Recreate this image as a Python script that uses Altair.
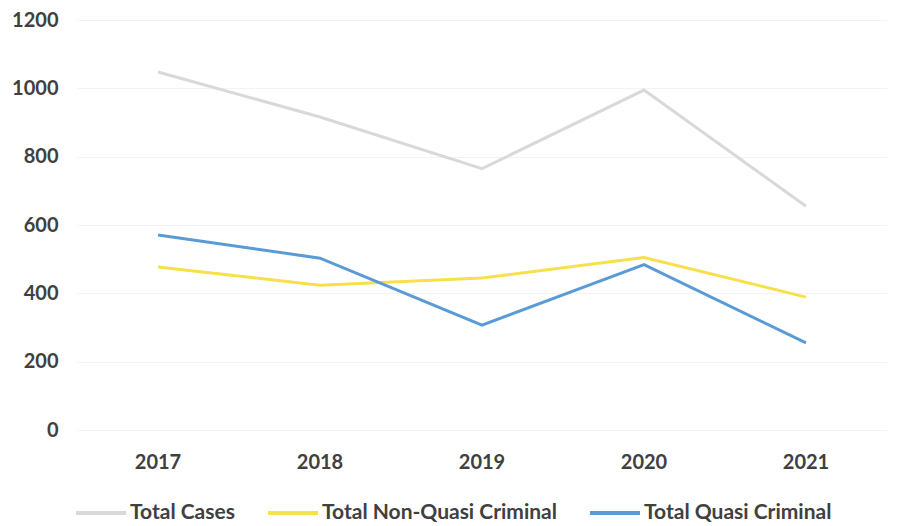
import altair as alt
import pandas as pd

years = ["2017", "2018", "2019", "2020", "2021"]
total_cases = [1048, 916, 765, 995, 655]
non_quasi = [477, 424, 445, 505, 389]
quasi = [571, 503, 307, 484, 255]
series = ["Total Cases", "Total Non-Quasi Criminal", "Total Quasi Criminal"]
colors = ["#d9d9d9", "#f7e04a", "#5b9bd5"]

rows = []
for name, vals in zip(series, [total_cases, non_quasi, quasi]):
    for y, v in zip(years, vals):
        rows.append({"Year": y, "Value": v, "Series": name, "order": series.index(name)})
df = pd.DataFrame(rows)

chart = alt.Chart(df).mark_line(strokeWidth=3).encode(
    x=alt.X("Year:N", sort=years, scale=alt.Scale(type="band", paddingInner=0, paddingOuter=0),
            axis=alt.Axis(title=None, labelAngle=0, domain=False, ticks=False, grid=False,
                          labelFont="Lato", labelFontSize=20, labelFontWeight="bold",
                          labelColor="#404040", labelPadding=22, bandPosition=0.5)),
    y=alt.Y("Value:Q", scale=alt.Scale(domain=[0, 1200]),
            axis=alt.Axis(title=None, values=[0, 200, 400, 600, 800, 1000, 1200], format="d",
                          domain=False, ticks=False, gridColor="#f3f3f3", gridWidth=1,
                          labelFont="Lato", labelFontSize=20, labelFontWeight="bold",
                          labelColor="#404040", labelPadding=19)),
    color=alt.Color("Series:N", sort=series,
                    scale=alt.Scale(domain=series, range=colors),
                    legend=alt.Legend(title=None, orient="none", legendX=-3, legendY=466,
                                      direction="horizontal", symbolType="stroke",
                                      symbolSize=2500, symbolStrokeWidth=4, padding=0,
                                      labelLimit=400,
                                      labelFont="Lato", labelFontSize=21, labelFontWeight="bold",
                                      labelColor="#404040", labelOffset=2, columnPadding=25)),
    order="order:Q",
    detail="Series:N",
).properties(
    width=810, height=410,
    autosize=alt.AutoSizeParams(type="none"),
    padding={"left": 69, "top": 12, "right": 13, "bottom": 92},
).configure_view(stroke=None)

chart.save("out.html", embed_options={"renderer": "svg", "actions": False})
